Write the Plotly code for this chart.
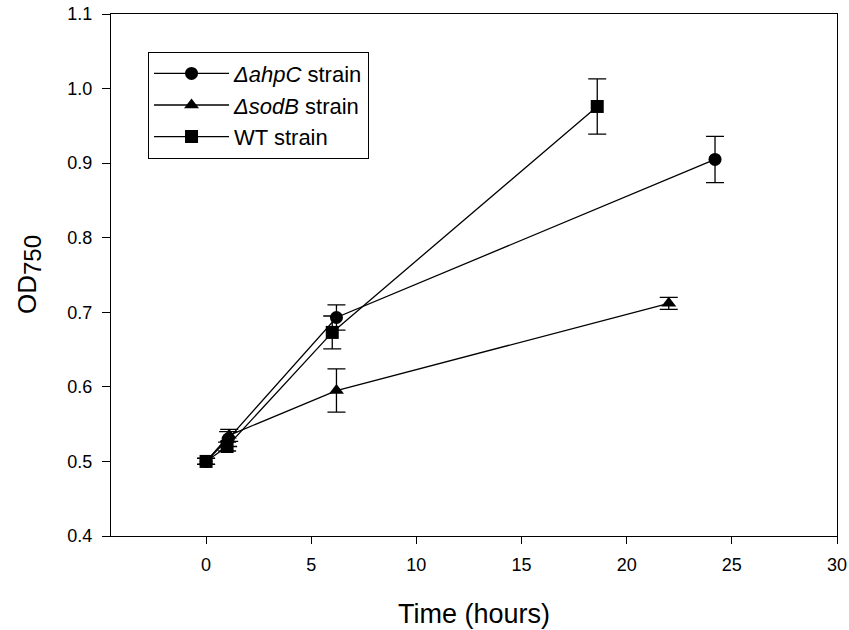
import plotly.graph_objects as go

ahpc_x = [0, 1.05, 6.2, 24.2]
ahpc_y = [0.5, 0.53, 0.693, 0.905]
ahpc_err = [0.004, 0.01, 0.017, 0.031]

sodb_x = [0, 1.1, 6.2, 22.0]
sodb_y = [0.5, 0.535, 0.595, 0.712]
sodb_err = [0.004, 0.008, 0.029, 0.008]

wt_x = [0, 1.0, 6.0, 18.6]
wt_y = [0.5, 0.52, 0.673, 0.976]
wt_err = [0.004, 0.006, 0.022, 0.037]

x_ticks = [0, 5, 10, 15, 20, 25, 30]

series = [
    ("<i>\u0394ahpC</i> strain", ahpc_x, ahpc_y, ahpc_err, "circle"),
    ("<i>\u0394sodB</i> strain", sodb_x, sodb_y, sodb_err, "triangle-up"),
    ("WT strain", wt_x, wt_y, wt_err, "square"),
]

fig = go.Figure()
for name, x, y, e, sym in series:
    fig.add_trace(go.Scatter(
        x=x, y=y, name=name, mode="lines+markers",
        line=dict(color="black", width=1.3),
        marker=dict(symbol=sym, size=13, color="black"),
        error_y=dict(type="data", array=e, visible=True, color="black", thickness=1.3, width=9),
    ))

font = "Liberation Sans, Arial, sans-serif"
fig.update_layout(
    width=849, height=630,
    margin=dict(l=111, r=12, t=14, b=94, autoexpand=False),
    plot_bgcolor="white", paper_bgcolor="white",
    font=dict(family=font, color="black", size=18),
    showlegend=True,
    legend=dict(x=0.051, y=0.928, xanchor="left", yanchor="top",
                bordercolor="black", borderwidth=1, bgcolor="white",
                font=dict(size=22, family=font), itemwidth=75,
                tracegroupgap=0),
    xaxis=dict(range=[-4.52, 30], tickvals=x_ticks,
               ticks="outside", ticklen=7, tickcolor="black",
               showline=True, linecolor="black", linewidth=1, mirror=True,
               showgrid=False, zeroline=False, automargin=False,
               ticklabelstandoff=5,
               tickfont=dict(size=18)),
    yaxis=dict(range=[0.4, 1.1], dtick=0.1, tick0=0.4, tickformat=".1f",
               ticks="outside", ticklen=8, tickcolor="black",
               showline=True, linecolor="black", linewidth=1, mirror=True,
               showgrid=False, zeroline=False, automargin=False,
               ticklabelstandoff=6,
               tickfont=dict(size=18)),
    annotations=[
        dict(text="Time (hours)", xref="paper", yref="paper", x=0.5, y=0,
             xanchor="center", yanchor="middle", yshift=-78, showarrow=False,
             font=dict(size=27, family=font)),
        dict(text="OD<sub><span style='font-size:24px'>750</span></sub>",
             xref="paper", yref="paper", x=0, y=0.5,
             xanchor="center", yanchor="middle", xshift=-82, textangle=-90,
             showarrow=False, font=dict(size=26, family=font)),
    ],
)

fig.write_html("out.html")
